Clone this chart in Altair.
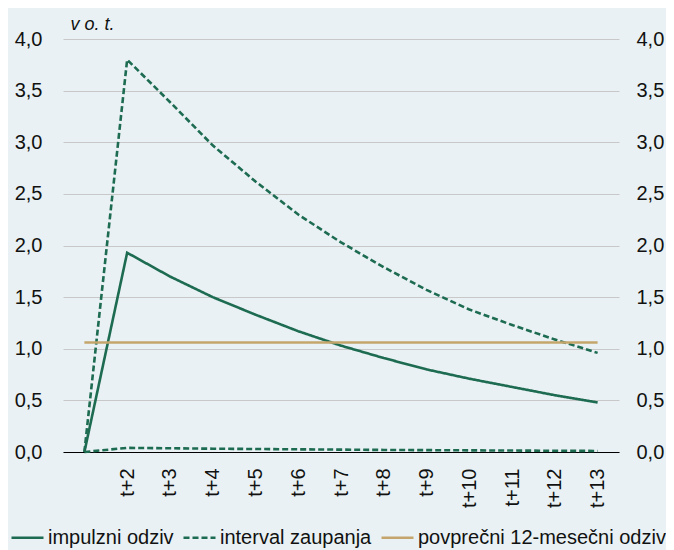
import altair as alt
import pandas as pd

categories = ["t+1", "t+2", "t+3", "t+4", "t+5", "t+6", "t+7",
              "t+8", "t+9", "t+10", "t+11", "t+12", "t+13"]
impulse = [0.0, 1.93, 1.70, 1.50, 1.33, 1.17, 1.03, 0.91, 0.80, 0.71, 0.63, 0.55, 0.48]
upper = [0.0, 3.80, 3.39, 2.97, 2.62, 2.30, 2.03, 1.79, 1.57, 1.38, 1.23, 1.09, 0.96]
lower = [0.0, 0.04, 0.036, 0.032, 0.029, 0.026, 0.023, 0.020, 0.018, 0.016, 0.014, 0.012, 0.010]
average = [1.06] * 13

S1 = "impulzni odziv"
S2 = "interval zaupanja"
S3 = "povprečni 12-mesečni odziv"
series_domain = [S1, S2, S3]

GREEN = "#1d6b50"
GOLD = "#c4a66c"
BG = "#e9f1f4"
FONT = "Liberation Sans"

rows = []
for name, line, vals in [(S1, "imp", impulse), (S2, "up", upper), (S2, "lo", lower), (S3, "avg", average)]:
    for c, v in zip(categories, vals):
        rows.append({"x": c, "value": v, "series": name, "line": line})
df = pd.DataFrame(rows)

yvals = [0, 0.5, 1.0, 1.5, 2.0, 2.5, 3.0, 3.5, 4.0]
label_expr = "replace(format(datum.value, '.1f'), '.', ',')"

x_enc = alt.X("x:N", sort=categories, title=None,
              scale=alt.Scale(type="point", padding=0.5),
              axis=alt.Axis(labelAngle=-90, labelFontSize=20, labelPadding=16,
                            labelExpr="datum.label == 't+1' ? '' : datum.label",
                            ticks=False, domain=True, domainColor="#000000",
                            domainWidth=1, grid=False, labelColor="#111111",
                            labelFont=FONT))

color_enc = alt.Color("series:N", title=None,
                      scale=alt.Scale(domain=series_domain, range=[GREEN, GREEN, GOLD]))
dash_enc = alt.StrokeDash("series:N", title=None,
                          scale=alt.Scale(domain=series_domain, range=[[1, 0], [6, 3], [1, 0]]))

yscale = alt.Scale(domain=[0, 4], nice=False)

left = alt.Chart(df).transform_filter(alt.datum.line != "avg").mark_line(strokeWidth=2.6).encode(
    x=x_enc,
    y=alt.Y("value:Q", scale=yscale,
            axis=alt.Axis(orient="left", values=yvals, labelExpr=label_expr,
                          grid=True, gridColor="#c8c8c8", gridWidth=1,
                          domain=False, ticks=False, labelPadding=21,
                          labelFontSize=20, labelColor="#111111", labelFont=FONT,
                          title="v o. t.", titleAngle=0, titleX=7, titleY=-10,
                          titleAlign="left", titleBaseline="alphabetic",
                          titleFontStyle="italic", titleFontWeight="normal",
                          titleFontSize=18, titleFont=FONT, titleColor="#111111")),
    color=color_enc,
    strokeDash=dash_enc,
    detail="line:N",
)

right = alt.Chart(df).transform_filter(alt.datum.line == "avg").mark_line(strokeWidth=2.6).encode(
    x=x_enc,
    y=alt.Y("value:Q", scale=yscale,
            axis=alt.Axis(orient="right", values=yvals, labelExpr=label_expr,
                          grid=False, domain=False, ticks=False, labelPadding=17,
                          labelFontSize=20, labelColor="#111111", labelFont=FONT,
                          title=None)),
    color=color_enc,
    strokeDash=dash_enc,
    detail="line:N",
)

chart = alt.layer(left, right).resolve_axis(y="independent").properties(
    width=556, height=413,
    padding={"left": 55, "top": 31, "right": 47, "bottom": 98},
    autosize="none",
    background=BG,
).configure_view(stroke=None).configure_legend(
    orient="none", legendX=-53, legendY=481, direction="horizontal",
    labelFontSize=20, labelFont=FONT, labelColor="#111111", labelLimit=500,
    symbolType="stroke", symbolSize=1024, symbolStrokeWidth=2.6,
    labelOffset=3, columnPadding=4, padding=0, title=None,
)

chart.save("out.html", embed_options={"renderer": "svg", "actions": False})
